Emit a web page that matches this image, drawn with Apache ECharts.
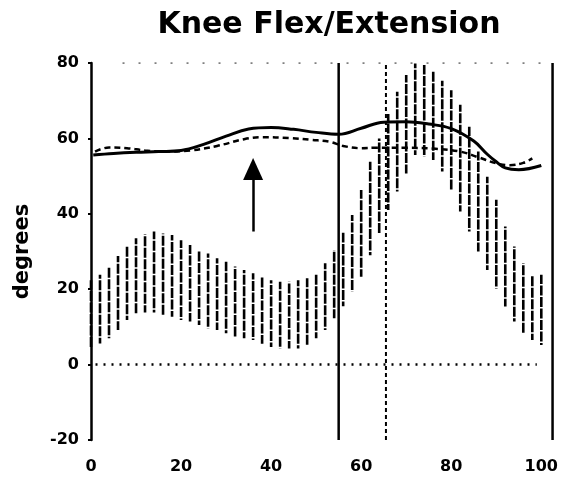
<!DOCTYPE html>
<html>
<head>
<meta charset="utf-8">
<script src="https://cdn.jsdelivr.net/npm/echarts@6/dist/echarts.min.js"></script>
<style>html,body{margin:0;padding:0;background:#fff;}#c{width:561px;height:483px;}</style>
</head>
<body>
<div id="c"></div>
<script>
// Normal band (vertical hatch lines), every 2% of cycle
const bandX    = [0,2,4,6,8,10,12,14,16,18,20,22,24,26,28,30,32,34,36,38,40,42,44,46,48,50,52,54,56,58,60,62,64,66,68,70,72,74,76,78,80,82,84,86,88,90,92,94,96,98,100];
const bandLow  = [4.7,5.6,7,9.2,11.8,13.2,13.8,13.8,13.2,12.7,11.8,11.4,10.5,9.6,9.2,8.3,7.4,7,6.5,5.5,4.7,4.3,4.3,4.3,5.2,7,9.2,12.3,15.5,19.3,23.3,29,34.8,41,45.9,50.7,55.6,55.1,54.3,51.2,46.3,40.6,35.3,30,25.1,20.2,15.4,11.4,8.3,6.5,5.2];
const bandHigh = [22.4,23.8,26,28.8,31.5,33.5,34.6,35.3,34.8,34.4,33,31.7,30.4,29.5,28.2,27.3,26,25.1,24.2,23.5,22.4,22,22,22.4,22.9,24.2,26.9,30.4,35,39.7,46.3,53.8,60,66.5,72.4,76.8,79.9,79.5,77.7,75.3,72.8,68.9,63.1,56.5,49.8,43.7,36.6,31.3,26.9,23.8,23.8];
// Solid curve
const solidX = [0.5,5,10,15,20,25,30,35,40,45,50,55,60,65,70,75,80,85,88,90,92,95,100];
const solidY = [55.6,56,56.3,56.5,56.8,58.4,60.6,62.5,62.9,62.4,61.6,61.1,62.7,64.3,64.4,63.8,62.6,59.3,55.8,53.8,52.2,51.7,52.8];
// Dashed curve
const dashX = [0.9,4,8,12,16,22,28,34,38,44,49,53,56,60,63,70,76,82,86,90,93,96,98];
const dashY = [56.5,57.6,57.4,56.8,56.5,56.8,58,59.8,60.3,60.1,59.6,59.1,58,57.4,57.5,57.5,57.3,56.5,55,53.4,52.9,53.5,54.7];
// Reference lines
const toeOffX = 55;      // solid vertical
const toeOffRefX = 65.5; // dashed vertical
const rightEdgeX = 102.5;
const zeroLine = [[1, 0], [99, 0]];
const topLine = [[7, 80], [100, 80]];
const arrowX = 36, arrowFrom = 35.3, arrowTo = 51.9;
// Axis ticks
const xTicks = [0,20,40,60,80,100];
const yMin = -20, yMax = 80, yStep = 20;

const chart = echarts.init(document.getElementById('c'));
const FONT = 'DejaVu Sans';
const bandData = bandX.map((x, i) => [x, bandLow[i], bandHigh[i]]);
const solidData = solidX.map((x, i) => [x, solidY[i]]);
const dashData = dashX.map((x, i) => [x, dashY[i]]);

chart.setOption({
  animation: false,
  backgroundColor: '#fff',
  title: {
    text: 'Knee Flex/Extension',
    left: 324, top: 5, textAlign: 'center',
    textStyle: { fontFamily: FONT, fontWeight: 'bold', fontSize: 30, color: '#000' }
  },
  grid: { left: 91, right: 3.6, top: 63, bottom: 43 },
  xAxis: {
    type: 'value', min: 0, max: rightEdgeX, interval: 20,
    axisLine: { show: false }, axisTick: { show: false }, splitLine: { show: false },
    axisLabel: {
      margin: 19, color: '#000', fontFamily: FONT, fontWeight: 'bold', fontSize: 16,
      formatter: v => xTicks.indexOf(v) >= 0 ? String(v) : ''
    }
  },
  yAxis: {
    type: 'value', min: yMin, max: yMax, interval: yStep,
    name: 'degrees', nameLocation: 'middle', nameGap: 58, nameRotate: 90,
    nameTextStyle: { fontFamily: FONT, fontWeight: 'bold', fontSize: 21, color: '#000' },
    axisLine: { show: true, lineStyle: { color: '#000', width: 2.5 } },
    axisTick: { show: true, length: 3, lineStyle: { color: '#000', width: 2 } },
    splitLine: { show: false },
    axisLabel: { margin: 12, color: '#000', fontFamily: FONT, fontWeight: 'bold', fontSize: 16 }
  },
  series: [
    {
      type: 'custom', data: bandData, encode: { x: 0, y: [1, 2] },
      renderItem: (params, api) => {
        const p1 = api.coord([api.value(0), api.value(1)]);
        const p2 = api.coord([api.value(0), api.value(2)]);
        return { type: 'line', shape: { x1: p1[0], y1: p1[1], x2: p2[0], y2: p2[1] },
          style: { stroke: '#000', lineWidth: 2.6, lineDash: [10, 1.5],
                   lineDashOffset: (params.dataIndex * 4.3) % 11.5 } };
      }
    },
    { type: 'line', data: zeroLine, symbol: 'none',
      lineStyle: { color: '#000', width: 2.5, type: [2, 6] } },
    { type: 'line', data: topLine, symbol: 'none',
      lineStyle: { color: '#555', width: 1.5, type: [2, 14] } },
    { type: 'line', data: [[toeOffX, yMin], [toeOffX, yMax]], symbol: 'none',
      lineStyle: { color: '#000', width: 2.5 } },
    { type: 'line', data: [[toeOffRefX, yMin], [toeOffRefX, yMax]], symbol: 'none',
      lineStyle: { color: '#000', width: 2, type: [4, 3] } },
    { type: 'line', data: [[rightEdgeX, yMin], [rightEdgeX, yMax]], symbol: 'none',
      lineStyle: { color: '#000', width: 2.5 } },
    { type: 'line', data: dashData, symbol: 'none', smooth: 0.4,
      lineStyle: { color: '#000', width: 2.5, type: [6, 4] } },
    { type: 'line', data: solidData, symbol: 'none', smooth: 0.4,
      lineStyle: { color: '#000', width: 3 },
      markLine: {
        silent: true, symbol: ['none', 'triangle'], symbolSize: [20, 22], label: { show: false },
        lineStyle: { color: '#000', width: 2.5, type: 'solid' },
        data: [[{ coord: [arrowX, arrowFrom] }, { coord: [arrowX, arrowTo] }]]
      }
    }
  ]
});
</script>
</body>
</html>
